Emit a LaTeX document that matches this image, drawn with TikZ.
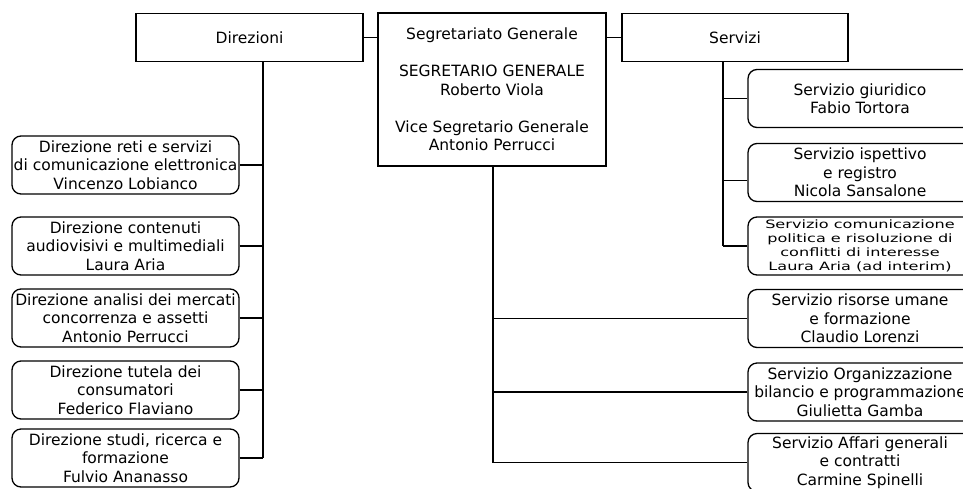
\documentclass[tikz,border=0pt]{standalone}
\usepackage{fontspec}
\setmainfont{DejaVu Sans}
\newfontfamily\widefont[FakeStretch=1.4]{DejaVu Sans}

\begin{document}
\begin{tikzpicture}[x=1pt, y=-1pt,
  topbox/.style={draw, line width=1.3pt, inner sep=0pt, align=center, font=\fontsize{15.5}{18.5}\selectfont},
  unit/.style={draw, line width=1.3pt, rounded corners=9pt, inner sep=0pt, align=center, font=\fontsize{15.5}{18.5}\selectfont, minimum height=58pt},
  link/.style={line width=1.3pt}]
\clip (0,0) rectangle (963,488);

\node[topbox, minimum width=227pt, minimum height=48pt] (dir) at (249.5,37.5) {Direzioni};
\node[topbox, minimum width=228pt, minimum height=153pt] (seg) at (492,89.5) {Segretariato Generale\\[18.5pt]SEGRETARIO GENERALE\\Roberto Viola\\[18.5pt]Vice Segretario Generale\\Antonio Perrucci};
\node[topbox, minimum width=226pt, minimum height=48pt] (serv) at (735,37.5) {Servizi};

\node[unit, minimum width=227pt] (d1) at (125.5,165) {Direzione reti e servizi\\di comunicazione elettronica\\Vincenzo Lobianco};
\node[unit, minimum width=227pt] (d2) at (125.5,246) {Direzione contenuti\\audiovisivi e multimediali\\Laura Aria};
\node[unit, minimum width=227pt] (d3) at (125.5,318) {Direzione analisi dei mercati\\concorrenza e assetti\\Antonio Perrucci};
\node[unit, minimum width=227pt] (d4) at (125.5,390) {Direzione tutela dei\\consumatori\\Federico Flaviano};
\node[unit, minimum width=227pt] (d5) at (125.5,458) {Direzione studi, ricerca e\\formazione\\Fulvio Ananasso};

\node[unit, minimum width=224pt] (s1) at (860,98.5) {Servizio giuridico\\Fabio Tortora};
\node[unit, minimum width=224pt] (s2) at (860,172.5) {Servizio ispettivo\\e registro\\Nicola Sansalone};
\node[unit, minimum width=224pt, font=\widefont\fontsize{11.5}{14}\selectfont] (s3) at (860,246) {Servizio comunicazione\\politica e risoluzione di\\conflitti di interesse\\Laura Aria (ad interim)};
\node[unit, minimum width=224pt] (s4) at (860,318.5) {Servizio risorse umane\\e formazione\\Claudio Lorenzi};
\node[unit, minimum width=224pt] (s5) at (860,392) {Servizio Organizzazione\\bilancio e programmazione\\Giulietta Gamba};
\node[unit, minimum width=224pt] (s6) at (860,462.5) {Servizio Affari generali\\e contratti\\Carmine Spinelli};

\coordinate (dtop) at (263,61);
\coordinate (stop) at (723,61);
\coordinate (gtop) at (493,166);

\draw[link] (dir.east) -- (seg.west |- dir.east);
\draw[link] (serv.west) -- (seg.east |- serv.west);

\draw[link] (dtop) -- (dtop |- d5.east);
\draw[link] (d1.east) -- (d1.east -| dtop) (d2.east) -- (d2.east -| dtop) (d3.east) -- (d3.east -| dtop) (d4.east) -- (d4.east -| dtop) (d5.east) -- (d5.east -| dtop);

\draw[link] (stop) -- (stop |- s3.west);
\draw[link] (s1.west) -- (s1.west -| stop) ([yshift=-8pt]s2.west) -- ([yshift=-8pt]s2.west -| stop) (s3.west) -- (s3.west -| stop);

\draw[link] (gtop) -- (gtop |- s6.west);
\draw[link] (s4.west) -- (s4.west -| gtop) (s5.west) -- (s5.west -| gtop) (s6.west) -- (s6.west -| gtop);
\end{tikzpicture}
\end{document}
